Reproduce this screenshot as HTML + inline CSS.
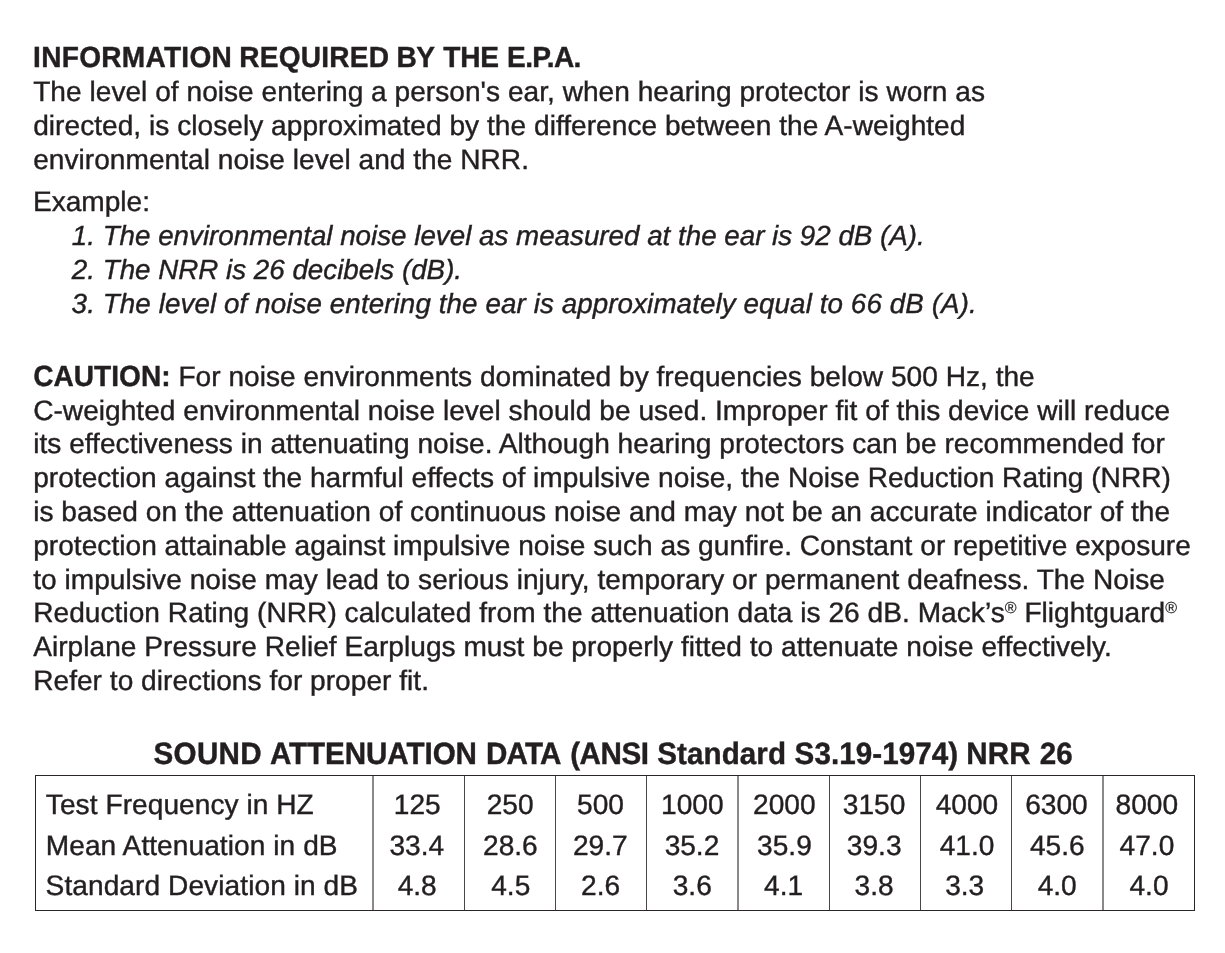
<!DOCTYPE html>
<html lang="en">
<head>
<meta charset="utf-8">
<title>Information Required by the E.P.A.</title>
<style>
html,body{margin:0;padding:0;background:#fff}
body{width:1225px;height:953px;position:relative;overflow:hidden;color:#231f20;
 font-family:"Liberation Sans",Arial,Helvetica,sans-serif;font-size:28.1px;line-height:34px;
 -webkit-text-stroke:0.4px #231f20;text-rendering:geometricPrecision}
h1,h2,p,b{margin:0;padding:0;font-size:inherit;font-weight:normal}
.l,.c,.w{position:absolute;white-space:nowrap}
h1,h2{position:absolute;left:0;width:1225px;height:34px}
h1,h2,b{font-weight:bold;-webkit-text-stroke-width:0.4px}
h2{font-size:29.6px}
.w,b{transform:scaleY(1.04);transform-origin:0 26px}
.w{top:0}
b{display:inline-block}
.i{font-style:italic;font-size:27.75px}
.r{font-size:16px;line-height:0;position:relative;top:-9px;letter-spacing:0;-webkit-text-stroke-width:0.2px}
.tbl{position:absolute;left:35px;top:775px;width:1158px;height:134px;border:1px solid #2b2728}
.v{position:absolute;top:776px;height:134px;width:1px;background:#4a4748}
.v2{width:2px;background:#8a8889}
.c{font-size:28.1px}
</style>
</head>
<body>
<h1 style="top:41px"><span class="w" style="left:33.10px;letter-spacing:0.2650px">INFORMATION</span> <span class="w" style="left:239.30px;letter-spacing:0.2000px">REQUIRED</span> <span class="w" style="left:396.40px;letter-spacing:-0.5500px">BY</span> <span class="w" style="left:443.30px;letter-spacing:-0.2500px">THE</span> <span class="w" style="left:507.10px;letter-spacing:-0.6500px">E.P.A.</span></h1>
<p class="l" style="left:33.20px;top:75px;letter-spacing:0.0211px">The level of noise entering a person's ear, when hearing protector is worn as</p>
<p class="l" style="left:33.20px;top:109px;letter-spacing:0.0267px">directed, is closely approximated by the difference between the A-weighted</p>
<p class="l" style="left:33.20px;top:143px;letter-spacing:0.0203px">environmental noise level and the NRR.</p>
<p class="l" style="left:32.95px;top:185px">Example:</p>
<p class="l i" style="left:71.80px;top:219px">1. The environmental noise level as measured at the ear is 92 dB (A).</p>
<p class="l i" style="left:71.84px;top:253px;letter-spacing:0.0019px">2. The NRR is 26 decibels (dB).</p>
<p class="l i" style="left:71.60px;top:287px;letter-spacing:0.0993px">3. The level of noise entering the ear is approximately equal to 66 dB (A).</p>
<p class="l" style="left:33.20px;top:360px;letter-spacing:0.0082px"><b>CAUTION:</b> For noise environments dominated by frequencies below 500 Hz, the</p>
<p class="l" style="left:33.20px;top:394px;letter-spacing:0.0181px">C-weighted environmental noise level should be used. Improper fit of this device will reduce</p>
<p class="l" style="left:33.20px;top:427px;letter-spacing:0.0169px">its effectiveness in attenuating noise. Although hearing protectors can be recommended for</p>
<p class="l" style="left:33.20px;top:461px;letter-spacing:0.0156px">protection against the harmful effects of impulsive noise, the Noise Reduction Rating (NRR)</p>
<p class="l" style="left:33.20px;top:495px;letter-spacing:0.0156px">is based on the attenuation of continuous noise and may not be an accurate indicator of the</p>
<p class="l" style="left:33.20px;top:529px;letter-spacing:0.0220px">protection attainable against impulsive noise such as gunfire. Constant or repetitive exposure</p>
<p class="l" style="left:33.20px;top:563px;letter-spacing:0.0250px">to impulsive noise may lead to serious injury, temporary or permanent deafness. The Noise</p>
<p class="l" style="left:33.20px;top:596px;letter-spacing:0.0309px">Reduction Rating (NRR) calculated from the attenuation data is 26 dB. Mack’s<span class="r">®</span> Flightguard<span class="r">®</span></p>
<p class="l" style="left:33.20px;top:630px;letter-spacing:0.0244px">Airplane Pressure Relief Earplugs must be properly fitted to attenuate noise effectively.</p>
<p class="l" style="left:33.20px;top:664px;letter-spacing:0.0221px">Refer to directions for proper fit.</p>
<h2 style="top:738px"><span class="w" style="left:153.60px;letter-spacing:0.2625px">SOUND</span> <span class="w" style="left:269.95px;letter-spacing:-0.0650px">ATTENUATION</span> <span class="w" style="left:486.00px;letter-spacing:-0.8333px">DATA</span> <span class="w" style="left:570.20px;letter-spacing:-0.4250px">(ANSI</span> <span class="w" style="left:657.20px;letter-spacing:0.0786px">Standard</span> <span class="w" style="left:794.60px;letter-spacing:0.0700px">S3.19-1974)</span> <span class="w" style="left:966.15px;letter-spacing:0.2000px">NRR</span> <span class="w" style="left:1039.65px;letter-spacing:0.2500px">26</span></h2>
<div class="tbl"></div>
<div class="v v2" style="left:372px"></div>
<div class="v" style="left:464px"></div>
<div class="v" style="left:555px"></div>
<div class="v" style="left:646px"></div>
<div class="v v2" style="left:737px"></div>
<div class="v" style="left:829px"></div>
<div class="v" style="left:920px"></div>
<div class="v" style="left:1011px"></div>
<div class="v v2" style="left:1102px"></div>
<div class="c" style="left:45.85px;top:788px;letter-spacing:0.0500px">Test Frequency in HZ</div>
<div class="c" style="left:393.85px;top:788px">125</div>
<div class="c" style="left:486.65px;top:788px">250</div>
<div class="c" style="left:577.02px;top:788px">500</div>
<div class="c" style="left:661.10px;top:788px">1000</div>
<div class="c" style="left:753.12px;top:788px">2000</div>
<div class="c" style="left:842.77px;top:788px">3150</div>
<div class="c" style="left:935.73px;top:788px">4000</div>
<div class="c" style="left:1025.23px;top:788px">6300</div>
<div class="c" style="left:1115.60px;top:788px">8000</div>
<div class="c" style="left:45.75px;top:829px;letter-spacing:0.0619px">Mean Attenuation in dB</div>
<div class="c" style="left:389.47px;top:829px">33.4</div>
<div class="c" style="left:483.05px;top:829px">28.6</div>
<div class="c" style="left:573.00px;top:829px">29.7</div>
<div class="c" style="left:664.63px;top:829px">35.2</div>
<div class="c" style="left:757.10px;top:829px">35.9</div>
<div class="c" style="left:846.83px;top:829px">39.3</div>
<div class="c" style="left:939.70px;top:829px">41.0</div>
<div class="c" style="left:1029.95px;top:829px">45.6</div>
<div class="c" style="left:1119.60px;top:829px">47.0</div>
<div class="c" style="left:45.60px;top:869px;letter-spacing:0.0717px">Standard Deviation in dB</div>
<div class="c" style="left:397.67px;top:869px">4.8</div>
<div class="c" style="left:491.22px;top:869px">4.5</div>
<div class="c" style="left:581.02px;top:869px">2.6</div>
<div class="c" style="left:672.72px;top:869px">3.6</div>
<div class="c" style="left:764.10px;top:869px">4.1</div>
<div class="c" style="left:854.62px;top:869px">3.8</div>
<div class="c" style="left:945.15px;top:869px">3.3</div>
<div class="c" style="left:1037.65px;top:869px">4.0</div>
<div class="c" style="left:1129.50px;top:869px">4.0</div>
</body>
</html>
